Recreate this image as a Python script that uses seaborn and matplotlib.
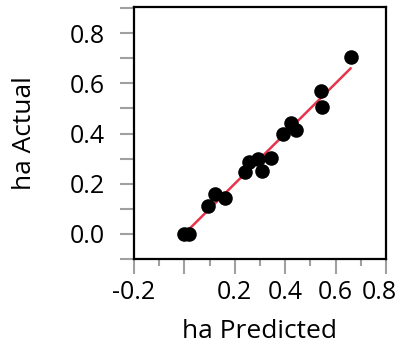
import numpy as np
import pandas as pd
import matplotlib
matplotlib.use("Agg")
import matplotlib.pyplot as plt
import matplotlib.transforms as mtransforms
import seaborn as sns
from matplotlib.ticker import MultipleLocator

# values
predicted = [0.0, 0.019, 0.095, 0.12, 0.162, 0.242, 0.256, 0.292, 0.308, 0.342,
             0.391, 0.424, 0.441, 0.542, 0.547, 0.66]
actual = [0.0, 0.0, 0.113, 0.159, 0.144, 0.247, 0.287, 0.30, 0.252, 0.303,
          0.40, 0.44, 0.412, 0.569, 0.505, 0.703]
x_ticks = [-0.2, 0.0, 0.2, 0.4, 0.6, 0.8]
x_tick_labels = ["-0.2", "", "0.2", "0.4", "0.6", "0.8"]
y_ticks = [0.0, 0.2, 0.4, 0.6, 0.8]
y_tick_labels = ["0.0", "0.2", "0.4", "0.6", "0.8"]

df = pd.DataFrame({"ha Predicted": predicted, "ha Actual": actual})
fit = pd.DataFrame({"x": [min(predicted), max(predicted)],
                    "y": [min(predicted), max(predicted)]})

sns.set_style("white")
plt.rcParams["font.family"] = ["Open Sans", "DejaVu Sans"]
plt.rcParams["text.color"] = "black"
plt.rcParams["axes.labelcolor"] = "black"

fig = plt.figure(figsize=(4.01, 3.47), dpi=100)
ax = fig.add_axes([0.334, 0.2536, 0.6286, 0.7262])

sns.lineplot(data=fit, x="x", y="y", ax=ax, color="#e8344a", linewidth=1.8)
sns.scatterplot(data=df, x="ha Predicted", y="ha Actual", ax=ax,
                color="black", s=110, edgecolor="black", linewidth=0, zorder=3)

ax.set_xlim(-0.2, 0.8)
ax.set_ylim(-0.1, 0.904)
ax.set_xticks(x_ticks)
ax.set_xticklabels(x_tick_labels)
ax.set_yticks(y_ticks)
ax.set_yticklabels(y_tick_labels)
ax.xaxis.set_minor_locator(MultipleLocator(0.1))
ax.yaxis.set_minor_locator(MultipleLocator(0.1))

ax.tick_params(axis="both", which="both", direction="out", bottom=True, left=True,
               color="#a0a0a0", width=1.5, labelsize=18, labelcolor="black")
ax.tick_params(axis="x", which="major", length=11, pad=4)
ax.tick_params(axis="x", which="minor", length=5)
ax.tick_params(axis="y", which="both", length=10, pad=11)

# last x label sits pulled in from the right edge, like the original
last = ax.get_xticklabels()[-1]
last.set_transform(last.get_transform() +
                   mtransforms.ScaledTranslation(-7 / 100, 0, fig.dpi_scale_trans))

for sp in ax.spines.values():
    sp.set_visible(True)
    sp.set_color("black")
    sp.set_linewidth(1.6)

ax.set_xlabel("ha Predicted", fontsize=19)
ax.set_ylabel("ha Actual", fontsize=19)
ax.xaxis.set_label_coords(0.5, -0.24)
ax.yaxis.set_label_coords(-0.385, 0.5)

fig.savefig("out.png", dpi=100)
